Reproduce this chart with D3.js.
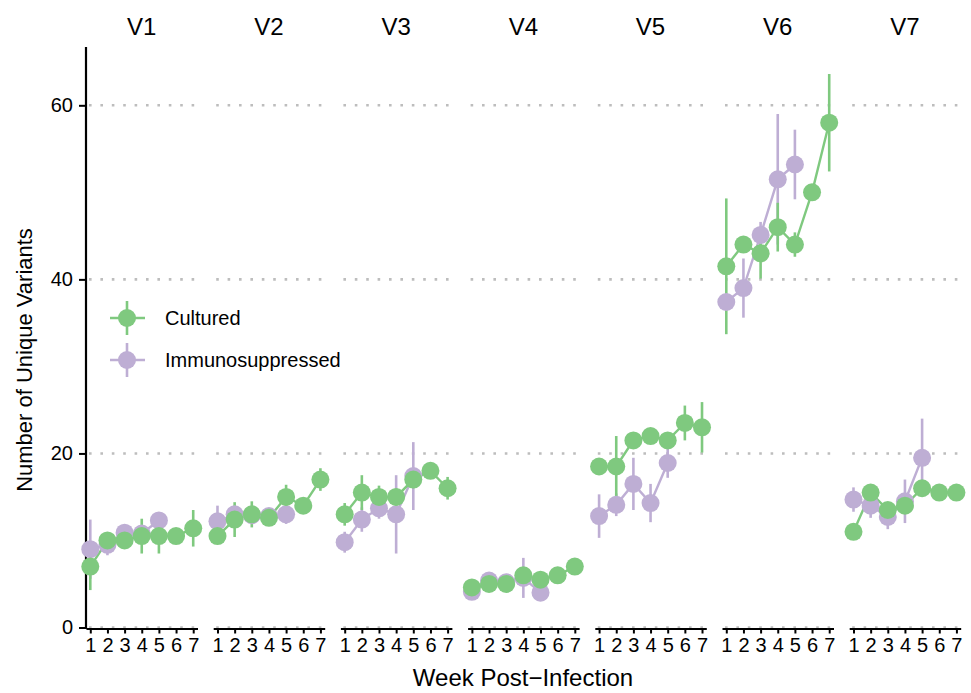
<!DOCTYPE html>
<html><head><meta charset="utf-8">
<script src="https://d3js.org/d3.v7.min.js"></script>
<style>body{margin:0;background:#fff;}svg{display:block;font-family:"Liberation Sans",Arial,sans-serif;}</style>
</head><body><svg id="c" width="971" height="693"></svg>
<script>
const viruses = ["V1","V2","V3","V4","V5","V6","V7"];
const weeks = [1,2,3,4,5,6,7];
const yTicks = [0,20,40,60];
const seriesNames = ["Cultured","Immunosuppressed"];
const seriesColors = ["#7fc97f","#beaed4"];

const culturedMean = [
  [7.0,10.0,10.0,10.5,10.5,10.5,11.4],
  [10.5,12.4,13.0,12.6,15.0,14.0,17.0],
  [13.0,15.5,15.0,15.0,17.0,18.0,16.0],
  [4.6,5.0,5.0,6.0,5.5,6.0,7.0],
  [18.5,18.5,21.5,22.0,21.5,23.5,23.0],
  [41.5,44.0,43.0,46.0,44.0,50.0,58.0],
  [11.0,15.5,13.5,14.0,16.0,15.5,15.5]
];
const culturedErr = [
  [2.7,0.6,0.6,2.0,2.0,0,2.1],
  [0.5,2.0,1.5,0.5,1.4,0,1.3],
  [1.3,2.0,1.3,1.0,1.0,0.5,1.3],
  [0.7,0.7,0.5,0.6,0.5,0.5,0.5],
  [0.5,3.5,0.5,0.5,0.5,2.0,2.9],
  [7.8,0.8,2.9,2.8,1.4,0.8,5.6],
  [0.5,0.8,0.5,0.5,0.5,0.3,0.3]
];
const immunoMean = [
  [9.0,9.5,10.9,10.8,12.3],
  [12.2,13.0,12.9,12.8,13.0],
  [9.8,12.4,13.7,13.0,17.4],
  [4.1,5.4,5.2,5.7,4.0],
  [12.8,14.1,16.5,14.3,18.9],
  [37.4,39.0,45.1,51.5,53.2],
  [14.7,14.0,12.7,14.5,19.5]
];
const immunoErr = [
  [3.4,1.2,0.5,0.5,0.5],
  [1.8,1.0,0.8,0.5,1.1],
  [1.2,1.4,1.2,4.5,3.9],
  [0.5,0.7,0.4,2.3,0.8],
  [2.5,1.3,3.0,2.2,1.7],
  [0.8,3.4,1.5,7.5,4.0],
  [1.4,1.4,1.4,2.5,4.5]
];

const svg = d3.select("#c");
const plotLeft = 86, panelW = 111.5, panelStep = 127.2;
const plotTop = 47, plotBottom = 628;
const y = d3.scaleLinear().domain([0, 66.7]).range([627.5, plotTop]);

// y axis
const yAxisG = svg.append("g").attr("transform",`translate(${plotLeft},0)`)
  .call(d3.axisLeft(y).tickValues(yTicks).tickSize(7).tickPadding(6));
yAxisG.select(".domain").remove();
yAxisG.selectAll(".tick line").attr("stroke","#000").attr("stroke-width",2);
yAxisG.selectAll(".tick text").attr("font-size",20).attr("fill","#000");
svg.append("line").attr("x1",plotLeft).attr("x2",plotLeft).attr("y1",plotTop).attr("y2",plotBottom+1)
  .attr("stroke","#000").attr("stroke-width",2.2);

function makeSeries(means, errs) {
  return means.map((arr, vi) => arr.map((m, i) => ({v: vi, w: weeks[i], m: m, e: errs[vi][i]})));
}
const data = [makeSeries(culturedMean, culturedErr), makeSeries(immunoMean, immunoErr)];

viruses.forEach((v, vi) => {
  const x0 = plotLeft + vi * panelStep;
  const x = d3.scaleLinear().domain([0.75, 7.25]).range([x0, x0 + panelW]);
  const g = svg.append("g");
  // gridlines
  g.selectAll("line.grid").data(yTicks).join("line")
    .attr("x1", x0 + 3).attr("x2", x0 + panelW).attr("y1", d => y(d)).attr("y2", d => y(d))
    .attr("stroke","#bdbdbd").attr("stroke-width",2.6).attr("stroke-dasharray","2.6,8.8");
  // x axis
  const xa = svg.append("g").attr("transform",`translate(0,${plotBottom + 0.5})`)
    .call(d3.axisBottom(x).tickValues(weeks).tickFormat(d3.format("d")).tickSize(5).tickPadding(4).tickSizeOuter(0));
  xa.select(".domain").attr("stroke","#000").attr("stroke-width",2);
  xa.selectAll(".tick line").attr("stroke","#000").attr("stroke-width",2);
  xa.selectAll(".tick text").attr("font-size",20).attr("fill","#000");
  // strip label
  svg.append("text").attr("x", x0 + panelW/2).attr("y", 35).attr("text-anchor","middle")
    .attr("font-size",24).attr("fill","#000").text(v);

  const line = d3.line().x(d => x(d.w)).y(d => y(d.m));
  // error bars
  [1,0].forEach(si => {
    g.selectAll(null).data(data[si][vi]).join("line")
      .attr("x1", d => x(d.w)).attr("x2", d => x(d.w))
      .attr("y1", d => y(d.m - d.e)).attr("y2", d => y(d.m + d.e))
      .attr("stroke", seriesColors[si]).attr("stroke-width", 2.6);
  });
  [1,0].forEach(si => {
    g.append("path").datum(data[si][vi]).attr("d", line).attr("fill","none")
      .attr("stroke", seriesColors[si]).attr("stroke-width", 2.4);
  });
  [1,0].forEach(si => {
    g.selectAll(null).data(data[si][vi]).join("circle")
      .attr("cx", d => x(d.w)).attr("cy", d => y(d.m)).attr("r", 9)
      .attr("fill", seriesColors[si]);
  });
});

// axis titles
svg.append("text").attr("x", 523).attr("y", 686).attr("text-anchor","middle")
  .attr("font-size",24).attr("fill","#000").text("Week Post\u2212Infection");
svg.append("text").attr("transform","translate(32,360) rotate(-90)").attr("text-anchor","middle")
  .attr("font-size",22).attr("fill","#000").text("Number of Unique Variants");

// legend
const leg = svg.append("g");
seriesNames.forEach((n, i) => {
  const cy = 318 + i * 42, cx = 127;
  leg.append("line").attr("x1", cx - 17).attr("x2", cx + 18).attr("y1", cy).attr("y2", cy)
    .attr("stroke", seriesColors[i]).attr("stroke-width", 2.4);
  leg.append("line").attr("x1", cx).attr("x2", cx).attr("y1", cy - 17).attr("y2", cy + 17)
    .attr("stroke", seriesColors[i]).attr("stroke-width", 2.6);
  leg.append("circle").attr("cx", cx).attr("cy", cy).attr("r", 9).attr("fill", seriesColors[i]);
  leg.append("text").attr("x", 165).attr("y", cy).attr("dy","0.35em").attr("font-size",20)
    .attr("fill","#000").text(n);
});
</script></body></html>
